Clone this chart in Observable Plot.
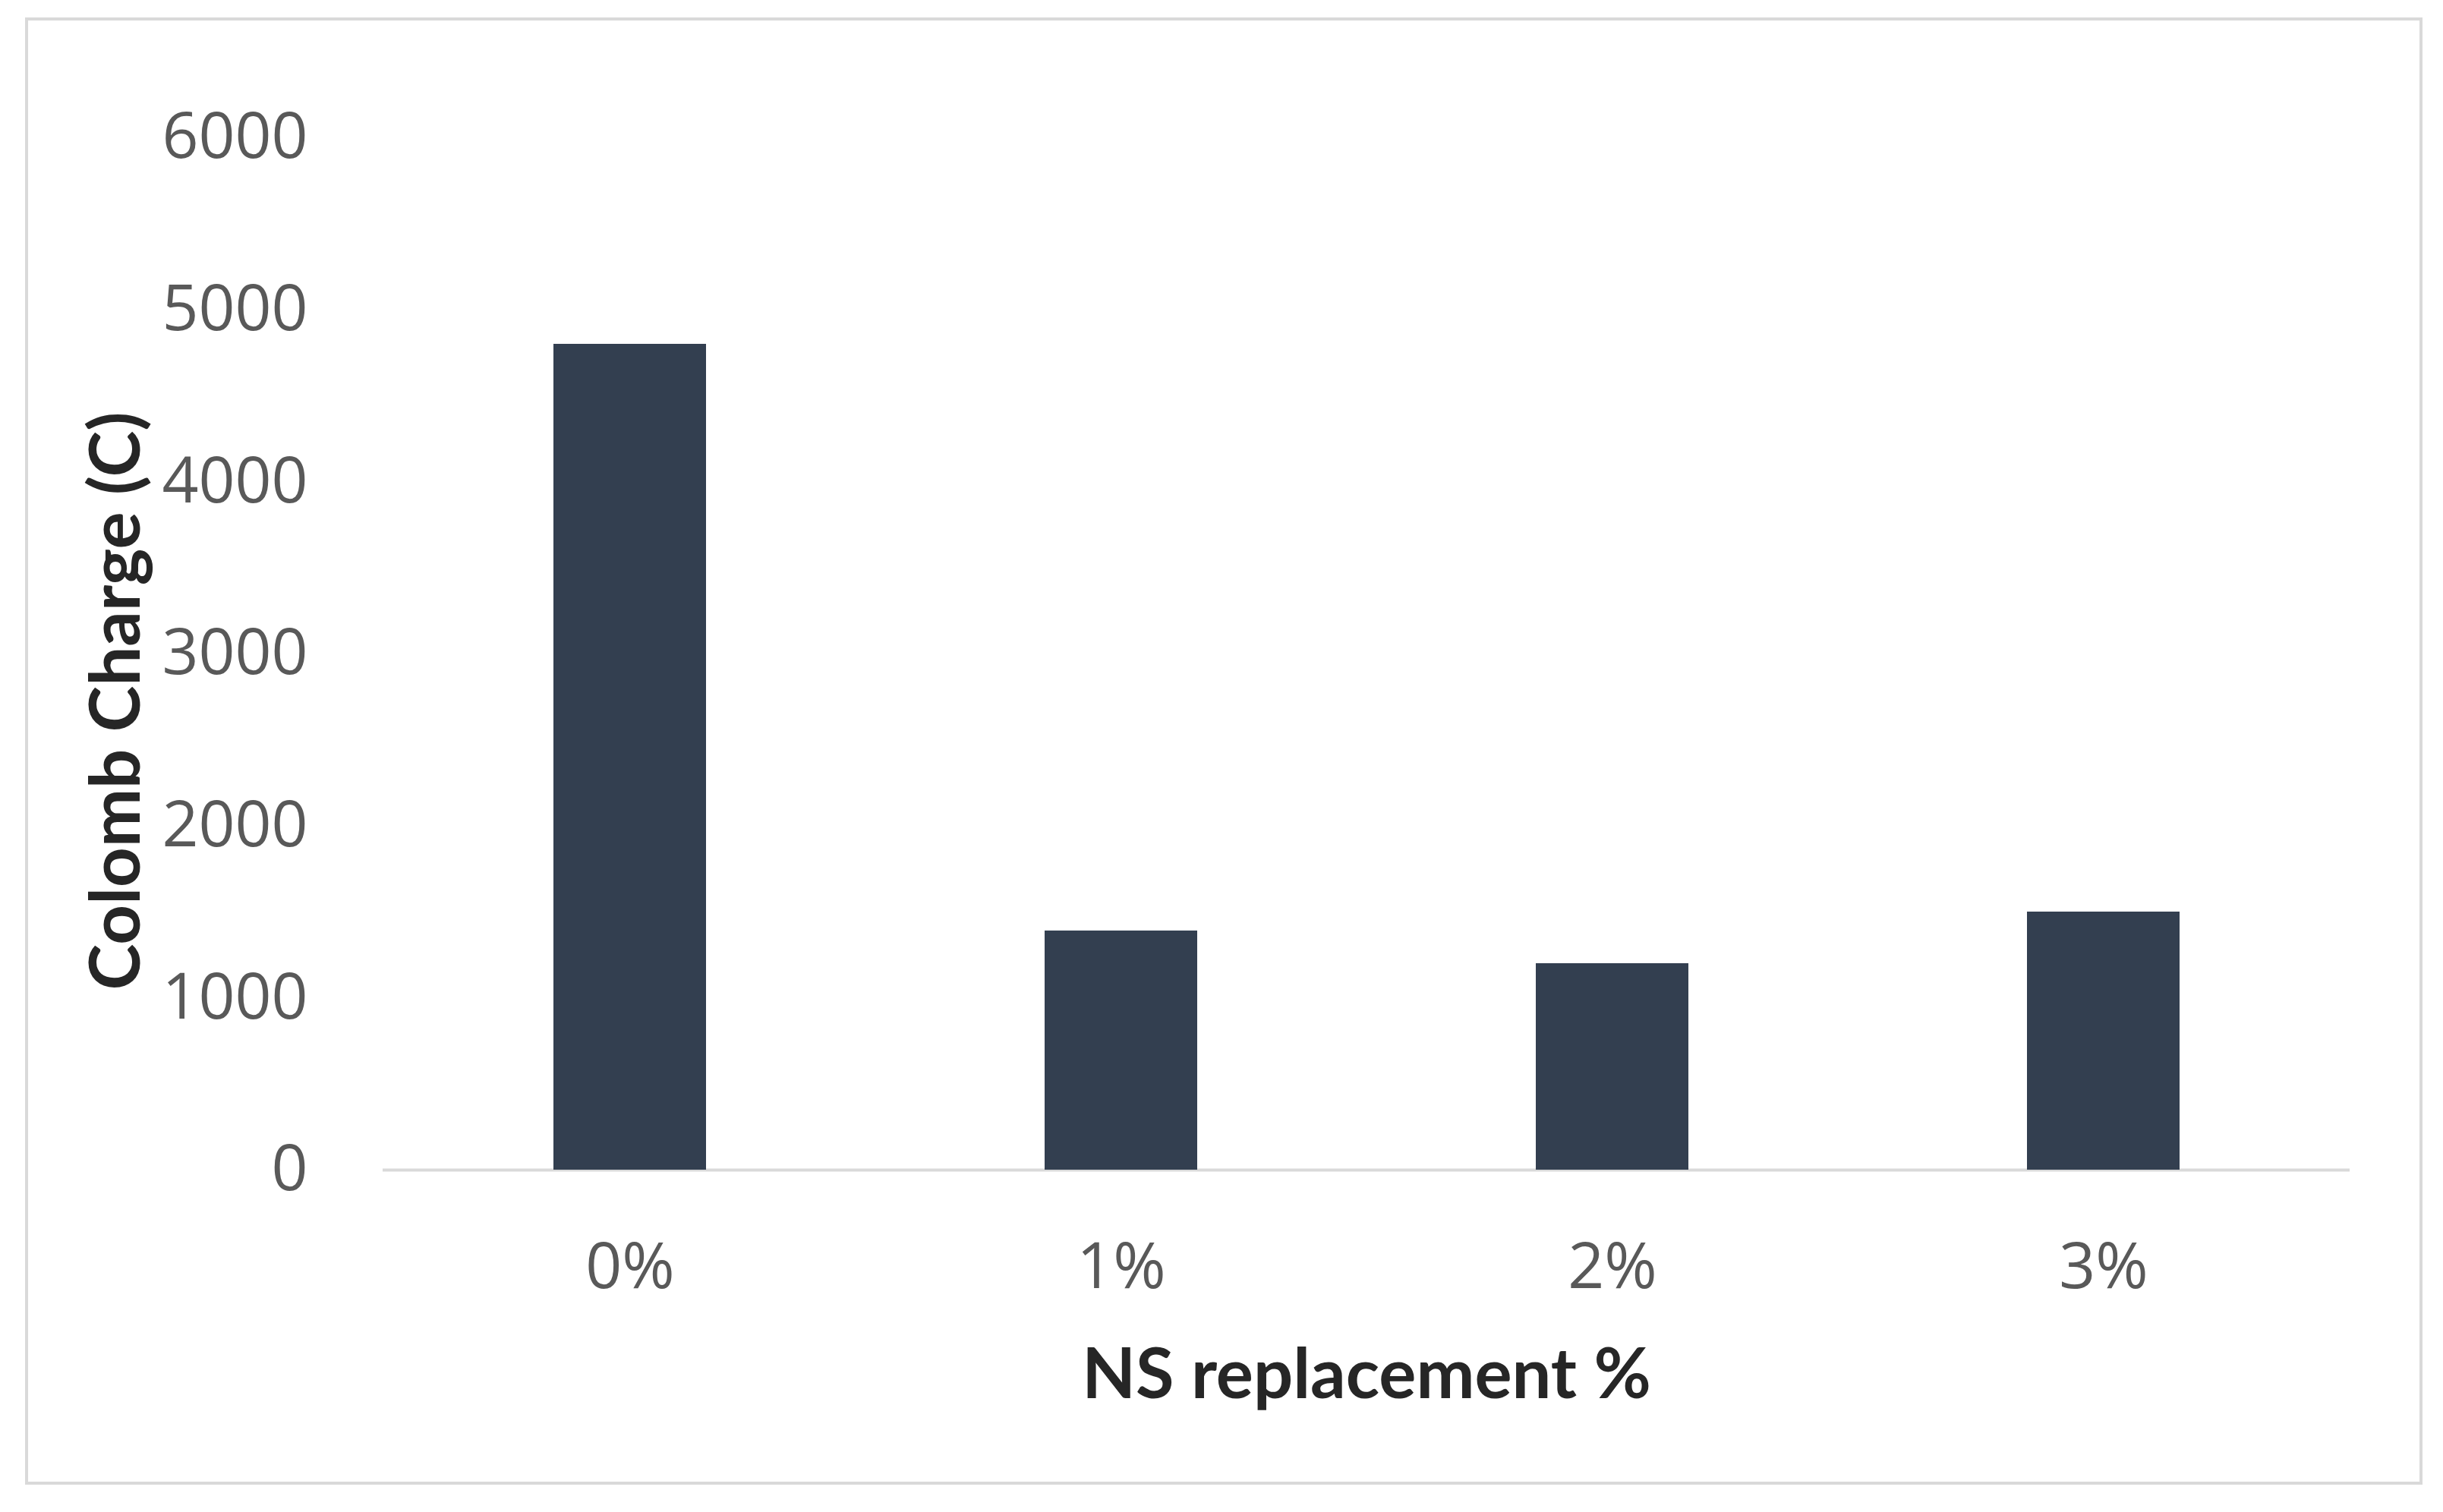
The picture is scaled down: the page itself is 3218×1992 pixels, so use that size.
<!DOCTYPE html>
<html>
<head>
<meta charset="utf-8">
<script src="https://cdn.jsdelivr.net/npm/d3@7"></script>
<script src="https://cdn.jsdelivr.net/npm/@observablehq/plot@0.6"></script>
<style>
  html, body { margin: 0; padding: 0; background: #ffffff; }
  #wrap { position: relative; width: 3218px; height: 1992px; background: #ffffff; }
  #border { position: absolute; left: 33px; top: 23px; width: 3150px; height: 1925px; border: 4px solid #d9d9d9; box-sizing: content-box; }
  #chart { position: absolute; left: 0; top: 0; }
</style>
</head>
<body>
<div id="wrap"><div id="border"></div><div id="chart"></div></div>
<script>
const categories = ["0%", "1%", "2%", "3%"];
const values = [4800, 1390, 1200, 1500];
const yTicks = [0, 1000, 2000, 3000, 4000, 5000, 6000];
const xTitle = "NS replacement %";
const yTitle = "Colomb Charge (C)";

const data = categories.map((c, i) => ({category: c, value: values[i]}));

const chart = Plot.plot({
  width: 3218,
  height: 1992,
  marginLeft: 504,
  marginRight: 123,
  marginTop: 181,
  marginBottom: 451,
  style: {background: "transparent", overflow: "visible"},
  x: {domain: categories, paddingInner: 0.69, paddingOuter: 0.345, label: null},
  y: {domain: [0, 6000], label: null},
  marks: [
    Plot.ruleY([0], {stroke: "#d9d9d9", strokeWidth: 4}),
    Plot.barY(data, {x: "category", y: "value", fill: "#333f50", inset: 0}),
    Plot.axisY(yTicks, {tickSize: 0, tickPadding: 99, fontSize: 84, fill: "#595959", fontFamily: "Open Sans", label: null, tickFormat: d => String(d)}),
    Plot.axisX({tickSize: 0, tickPadding: 96, fontSize: 84, fill: "#595959", fontFamily: "Open Sans", label: null}),
    Plot.text([xTitle], {frameAnchor: "bottom", lineAnchor: "middle", textAnchor: "middle", dy: 271, text: d => d, fontSize: 92, fontWeight: "bold", fontFamily: "Lato", fill: "#262626"}),
    Plot.text([yTitle], {frameAnchor: "left", lineAnchor: "middle", textAnchor: "middle", dx: -350, dy: 62, rotate: -90, text: d => d, fontSize: 92, fontWeight: "bold", fontFamily: "Lato", fill: "#262626"})
  ]
});
document.getElementById("chart").appendChild(chart);
</script>
</body>
</html>
